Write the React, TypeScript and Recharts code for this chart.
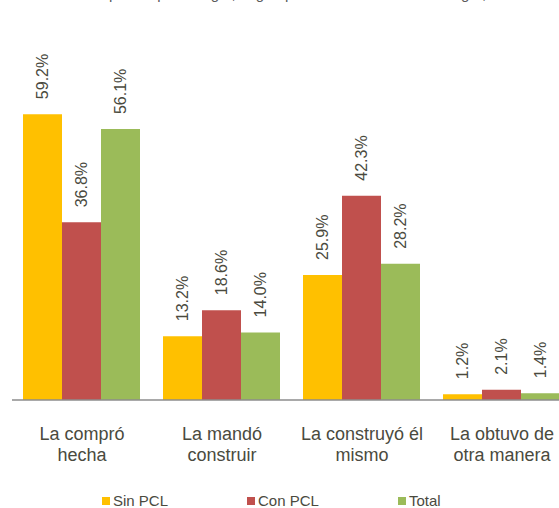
import React from "react";
import { BarChart, Bar, XAxis, YAxis, LabelList } from "recharts";

const categories = ["La compró|hecha", "La mandó|construir", "La construyó él|mismo", "La obtuvo de|otra manera"];
const sinPCL = [59.2, 13.2, 25.9, 1.2];
const conPCL = [36.8, 18.6, 42.3, 2.1];
const total = [56.1, 14.0, 28.2, 1.4];
const seriesNames = ["Sin PCL", "Con PCL", "Total"];
const seriesColors = ["#FFC000", "#C0504D", "#9BBB59"];
const titleFragment = "de la vivienda que ocupa el hogar, según presencia de PCL en el hogar, 2012";

const data = categories.map((c, i) => ({
  name: c,
  sin: sinPCL[i],
  con: conPCL[i],
  total: total[i],
}));

const TEXT = "#4a4a3e";
const FONT = "Arial, 'Liberation Sans', sans-serif";

const Tick = (props: any) => {
  const { x, y, payload } = props;
  const lines = String(payload.value).split("|");
  return (
    <text x={x} y={y} textAnchor="middle" fill={TEXT} fontSize={18} fontFamily={FONT}>
      {lines.map((l, i) => (
        <tspan key={i} x={x} y={y + 32 + i * 21}>
          {l}
        </tspan>
      ))}
    </text>
  );
};

const RotLabel = (props: any) => {
  const { x, y, width, value } = props;
  const cx = x + width / 2;
  const ty = y - 15;
  return (
    <text
      x={cx}
      y={ty}
      transform={`rotate(-90, ${cx}, ${ty})`}
      textAnchor="start"
      dominantBaseline="central"
      fill={TEXT}
      fontSize={16}
      fontFamily={FONT}
    >
      {Number(value).toFixed(1) + "%"}
    </text>
  );
};

const legendPos = [
  { sq: 102, tx: 113 },
  { sq: 247, tx: 258 },
  { sq: 398, tx: 409 },
];

export default function App() {
  return (
    <div
      style={{
        position: "absolute",
        left: 0,
        top: 0,
        width: 559,
        height: 508,
        overflow: "hidden",
        background: "#fff",
        fontFamily: FONT,
      }}
    >
      <div
        style={{
          position: "absolute",
          top: -15,
          left: 8,
          fontSize: 15,
          color: "#595959",
          whiteSpace: "nowrap",
        }}
      >
        {titleFragment}
      </div>
      <div style={{ position: "absolute", left: 0, top: 0 }}>
        <BarChart
          width={600}
          height={508}
          data={data}
          margin={{ top: 62, right: 28, left: 12, bottom: 0 }}
          barCategoryGap={11}
          barGap={0}
        >
          <XAxis
            dataKey="name"
            height={108}
            interval={0}
            tickLine={false}
            axisLine={{ stroke: "#8c8c8c", strokeWidth: 1.5 }}
            tick={<Tick />}
          />
          <YAxis hide domain={[0, 70]} />
          <Bar dataKey="sin" fill={seriesColors[0]} isAnimationActive={false}>
            <LabelList dataKey="sin" content={<RotLabel />} />
          </Bar>
          <Bar dataKey="con" fill={seriesColors[1]} isAnimationActive={false}>
            <LabelList dataKey="con" content={<RotLabel />} />
          </Bar>
          <Bar dataKey="total" fill={seriesColors[2]} isAnimationActive={false}>
            <LabelList dataKey="total" content={<RotLabel />} />
          </Bar>
        </BarChart>
      </div>
      {seriesNames.map((n, i) => (
        <React.Fragment key={n}>
          <div
            style={{
              position: "absolute",
              left: legendPos[i].sq,
              top: 497,
              width: 8,
              height: 8,
              background: seriesColors[i],
            }}
          />
          <div
            style={{
              position: "absolute",
              left: legendPos[i].tx,
              top: 492,
              fontSize: 15,
              color: TEXT,
              whiteSpace: "nowrap",
              lineHeight: "17px",
            }}
          >
            {n}
          </div>
        </React.Fragment>
      ))}
    </div>
  );
}
